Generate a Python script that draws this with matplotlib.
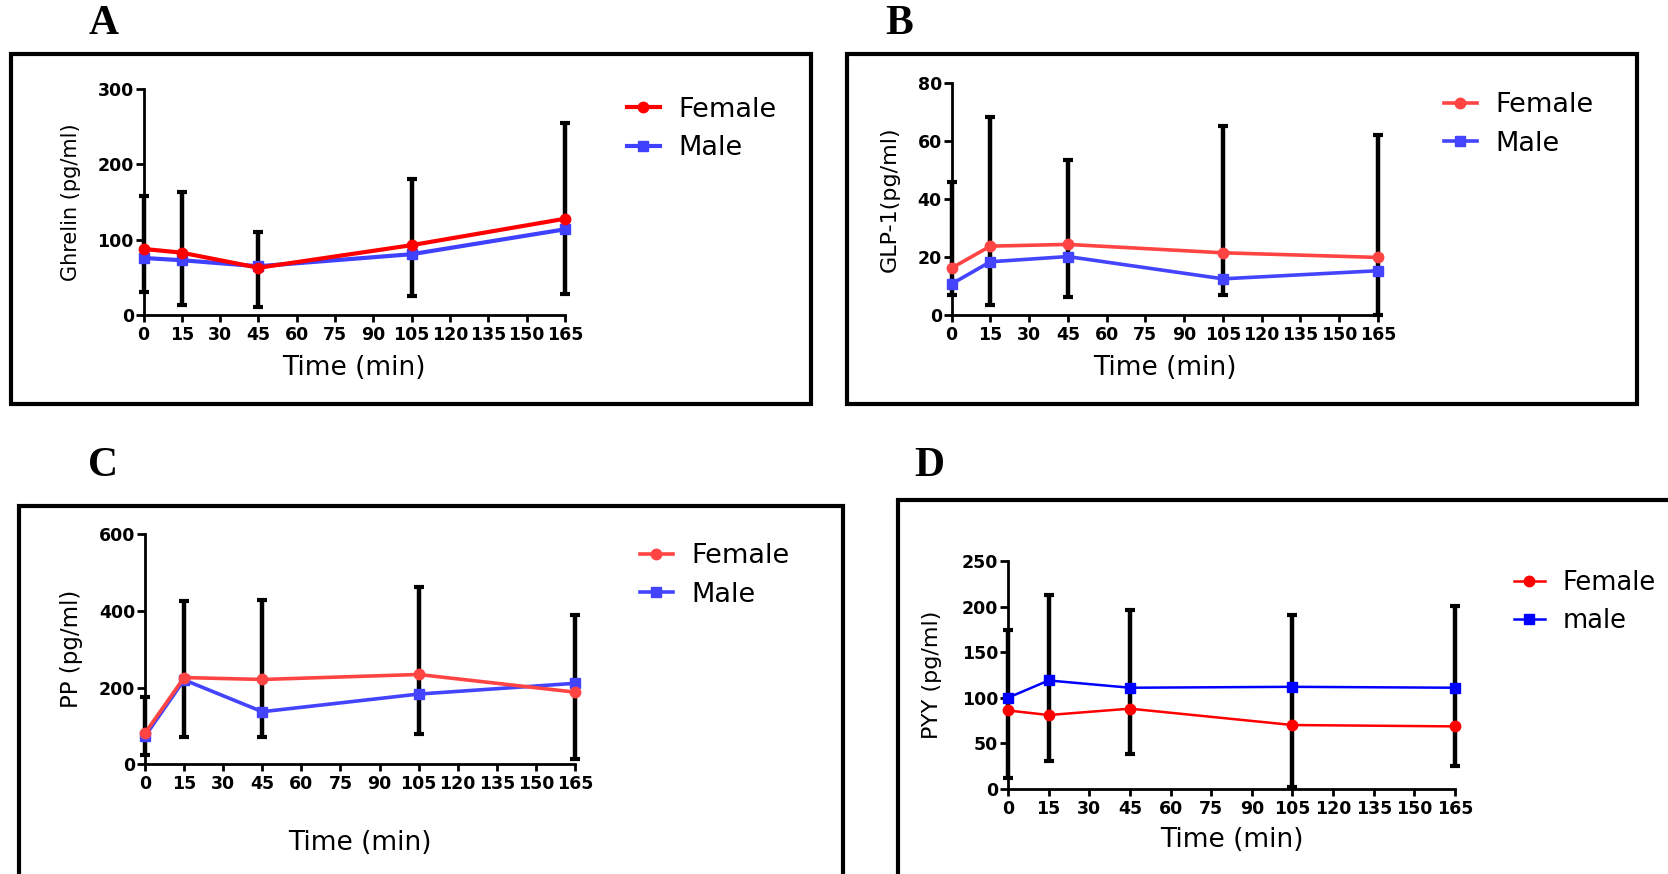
import matplotlib
matplotlib.use('Agg')
import matplotlib.pyplot as plt
from matplotlib.patches import Rectangle

W, H = 1668, 874
DPI = 100

# ---------------- data ----------------
time_min = [0, 15, 45, 105, 165]
x_ticks = [0, 15, 30, 45, 60, 75, 90, 105, 120, 135, 150, 165]

ghrelin_female = [88, 83, 63, 93, 128]
ghrelin_male = [76, 73, 65, 81, 114]
ghrelin_err_low = [31, 14, 11, 25, 28]
ghrelin_err_high = [158, 164, 111, 181, 255]
ghrelin_yticks = [0, 100, 200, 300]

glp1_female = [16.1, 23.7, 24.3, 21.4, 19.8]
glp1_male = [10.6, 18.3, 20.1, 12.4, 15.2]
glp1_err_low = [6.9, 3.5, 6.0, 6.9, 0.0]
glp1_err_high = [46.0, 68.2, 53.5, 65.2, 62.2]
glp1_yticks = [0, 20, 40, 60, 80]

pp_female = [81, 226, 221, 234, 188]
pp_male = [73, 220, 137, 183, 211]
pp_err_low = [23, 70, 70, 78, 15]
pp_err_high = [176, 425, 429, 463, 388]
pp_yticks = [0, 200, 400, 600]

pyy_female = [86, 81, 88, 70, 68.5]
pyy_male = [100, 119, 111, 112, 111]
pyy_err_low = [12, 31, 38.5, 2, 24.6]
pyy_err_high = [174, 213, 196.5, 190.6, 201.3]
pyy_yticks = [0, 50, 100, 150, 200, 250]

# ---------------- layout helpers ----------------
def fx(px):
    return px / W

def fy(py):
    return 1 - py / H

plt.rcParams['font.family'] = ['DejaVu Sans']
fig = plt.figure(figsize=(W / DPI, H / DPI), dpi=DPI)

panels = [
    dict(letter='A', letter_xy=(104, 24), box=(10.5, 54, 811, 404),
         ax=(143.5, 89, 565, 315.3), female=ghrelin_female, male=ghrelin_male,
         lo=ghrelin_err_low, hi=ghrelin_err_high, yticks=ghrelin_yticks,
         ylabel='Ghrelin (pg/ml)', ylabel_size=15, ylabel_x=-0.172, xlabel_y=-0.233,
         fcol='#FF0000', mcol='#4040FF', lw=3.0,
         leg_x=627, leg_y=129, leg_fs=19.5, labels=('Female', 'Male')),
    dict(letter='B', letter_xy=(899, 24), box=(847, 54, 1637, 404),
         ax=(951.5, 83.3, 1378, 314.7), female=glp1_female, male=glp1_male,
         lo=glp1_err_low, hi=glp1_err_high, yticks=glp1_yticks,
         ylabel='GLP-1(pg/ml)', ylabel_size=16, ylabel_x=-0.144, xlabel_y=-0.23,
         fcol='#FF4444', mcol='#4444FF', lw=2.6,
         leg_x=1444, leg_y=124.5, leg_fs=19.5, labels=('Female', 'Male')),
    dict(letter='C', letter_xy=(103, 466), box=(19, 506, 843, 920),
         ax=(145, 534, 575, 764.3), female=pp_female, male=pp_male,
         lo=pp_err_low, hi=pp_err_high, yticks=pp_yticks,
         ylabel='PP (pg/ml)', ylabel_size=16.5, ylabel_x=-0.172, xlabel_y=-0.342,
         fcol='#FF4444', mcol='#4444FF', lw=2.6,
         leg_x=640, leg_y=575.5, leg_fs=19.5, labels=('Female', 'Male')),
    dict(letter='D', letter_xy=(929, 466), box=(898, 500, 1720, 920),
         ax=(1008, 561.3, 1455, 788.7), female=pyy_female, male=pyy_male,
         lo=pyy_err_low, hi=pyy_err_high, yticks=pyy_yticks,
         ylabel='PYY (pg/ml)', ylabel_size=16, ylabel_x=-0.170, xlabel_y=-0.226,
         fcol='#FF0000', mcol='#0000FF', lw=1.8,
         leg_x=1514, leg_y=602, leg_fs=18.5, labels=('Female', 'male')),
]

for p in panels:
    # frame box around the panel
    x0, y0, x1, y1 = p['box']
    fig.add_artist(Rectangle((fx(x0), fy(y1)), fx(x1 - x0), (y1 - y0) / H,
                             transform=fig.transFigure, fill=False,
                             edgecolor='black', linewidth=3.0, clip_on=False))
    # panel letter
    fig.text(fx(p['letter_xy'][0]), fy(p['letter_xy'][1]), p['letter'],
             family='Liberation Serif', fontweight='bold', fontsize=30,
             ha='center', va='center')

    l, t, r, b = p['ax']
    ax = fig.add_axes([fx(l), fy(b), fx(r - l), (b - t) / H])

    lo = p['lo']
    hi = p['hi']
    span = [h - l_ for h, l_ in zip(hi, lo)]
    ax.errorbar(time_min, lo, yerr=[[0] * len(lo), span], fmt='none',
                ecolor='black', elinewidth=3.2, capsize=3.8, capthick=3.0,
                zorder=2, clip_on=False)

    ax.plot(time_min, p['female'], color=p['fcol'], lw=p['lw'], marker='o',
            markersize=7.5, zorder=4, clip_on=False, label=p['labels'][0])
    ax.plot(time_min, p['male'], color=p['mcol'], lw=p['lw'], marker='s',
            markersize=7.5, zorder=3, clip_on=False, label=p['labels'][1])

    ax.set_xlim(0, 165)
    ax.set_ylim(p['yticks'][0], p['yticks'][-1])
    ax.set_xticks(x_ticks)
    ax.set_yticks(p['yticks'])
    ax.set_xticklabels([str(v) for v in x_ticks])
    ax.set_yticklabels([str(v) for v in p['yticks']])

    for s in ('top', 'right'):
        ax.spines[s].set_visible(False)
    for s in ('left', 'bottom'):
        ax.spines[s].set_linewidth(2.0)
    ax.tick_params(axis='both', width=2.0, color='black')
    ax.tick_params(axis='y', length=6, pad=1)
    ax.tick_params(axis='x', length=5, pad=3)
    for lab in ax.get_xticklabels() + ax.get_yticklabels():
        lab.set_fontsize(12.5)
        lab.set_fontweight('bold')

    ax.set_xlabel('Time (min)', fontsize=19)
    ax.xaxis.set_label_coords(0.5, p['xlabel_y'])
    ax.xaxis.label.set_va('center')
    ax.set_ylabel(p['ylabel'], fontsize=p['ylabel_size'])
    ax.yaxis.set_label_coords(p['ylabel_x'], 0.5)
    ax.yaxis.label.set_va('center')

    ax.legend(loc='center left', bbox_to_anchor=(fx(p['leg_x']), fy(p['leg_y'])),
              bbox_transform=fig.transFigure, frameon=False, fontsize=p['leg_fs'],
              borderpad=0, borderaxespad=0, handlelength=1.2,
              handletextpad=0.7, labelspacing=0.45, numpoints=1)

fig.savefig('out.png', dpi=DPI)
